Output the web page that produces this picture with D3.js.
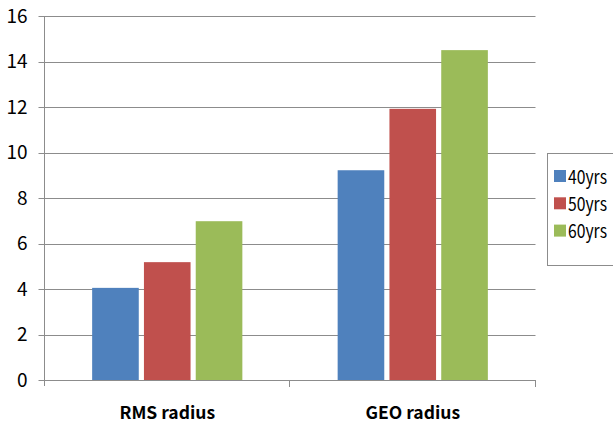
<!DOCTYPE html>
<html>
<head>
<meta charset="utf-8">
<script src="https://cdn.jsdelivr.net/npm/d3@7"></script>
<style>
  html, body { margin: 0; padding: 0; background: #fff; }
  svg { display: block; }
  text { font-family: "Noto Sans CJK KR", "Noto Sans", sans-serif; }
</style>
</head>
<body>
<svg id="chart" width="613" height="425"></svg>
<script>
// Radius by age group
const categories = ["RMS radius", "GEO radius"];
const seriesNames = ["40yrs", "50yrs", "60yrs"];
const values40 = [4.05, 9.22];
const values50 = [5.18, 11.92];
const values60 = [6.98, 14.5];
const yTicks = [0, 2, 4, 6, 8, 10, 12, 14, 16];
const colors = ["#4f81bd", "#c0504d", "#9bbb59"];

const series = [values40, values50, values60];
const fontFamily = "'Noto Sans CJK KR', 'Noto Sans', sans-serif";

const svg = d3.select("#chart");
const plotLeft = 44.5, plotRight = 535.5, plotTop = 16, plotBottom = 380;

const x = d3.scaleBand().domain(categories).range([plotLeft, plotRight]).paddingInner(0).paddingOuter(0);
const x1 = d3.scaleBand().domain(seriesNames).range([0, x.bandwidth()]).paddingInner(0.1).paddingOuter(0.92);
const y = d3.scaleLinear().domain([0, 16]).range([plotBottom, plotTop]);

// horizontal gridlines
svg.append("g")
  .selectAll("line")
  .data(yTicks)
  .join("line")
  .attr("x1", plotLeft - 6).attr("x2", plotRight)
  .attr("y1", d => Math.round(y(d)) + 0.5).attr("y2", d => Math.round(y(d)) + 0.5)
  .attr("stroke", "#8c8c8c").attr("stroke-width", 1);

// y axis labels
const yAxis = d3.axisLeft(y).tickValues(yTicks).tickSize(0).tickPadding(0);
const gy = svg.append("g").attr("transform", `translate(${plotLeft - 17},0)`).call(yAxis);
gy.select(".domain").remove();
gy.selectAll("text").attr("font-size", 19).attr("fill", "#000").attr("dy", "0.34em")
  .style("font-family", fontFamily);

// y axis line
svg.append("line")
  .attr("x1", plotLeft).attr("x2", plotLeft).attr("y1", plotTop).attr("y2", plotBottom + 6)
  .attr("stroke", "#8c8c8c");

// bars
const groups = svg.append("g")
  .selectAll("g")
  .data(categories)
  .join("g")
  .attr("transform", d => `translate(${x(d)},0)`);

groups.selectAll("rect")
  .data((d, i) => seriesNames.map((s, j) => ({ s, j, v: series[j][i] })))
  .join("rect")
  .attr("x", d => x1(d.s))
  .attr("width", x1.bandwidth())
  .attr("y", d => y(d.v))
  .attr("height", d => plotBottom - y(d.v))
  .attr("fill", d => colors[d.j]);

// x axis
const xAxis = d3.axisBottom(x).tickSize(0).tickPadding(0);
const gx = svg.append("g").attr("transform", `translate(0,${plotBottom + 0.5})`).call(xAxis);
gx.select(".domain").remove();
gx.selectAll("text").attr("font-size", 17.5).attr("font-weight", "bold").attr("fill", "#000")
  .attr("dy", 0).attr("y", 38)
  .style("font-family", fontFamily);

svg.append("line")
  .attr("x1", plotLeft).attr("x2", plotRight).attr("y1", plotBottom + 0.5).attr("y2", plotBottom + 0.5)
  .attr("stroke", "#8c8c8c");
// category separators
const seps = [x(categories[1]), plotRight];
svg.append("g").selectAll("line").data(seps).join("line")
  .attr("x1", d => Math.round(d) - 0.5).attr("x2", d => Math.round(d) - 0.5)
  .attr("y1", plotBottom).attr("y2", plotBottom + 7)
  .attr("stroke", "#8c8c8c");

// legend
const legend = svg.append("g").attr("transform", "translate(547,153)");
legend.append("rect")
  .attr("x", 0.5).attr("y", 0.5).attr("width", 80).attr("height", 112)
  .attr("fill", "#fff").attr("stroke", "#8c8c8c");
const item = legend.selectAll("g.item")
  .data(seriesNames)
  .join("g")
  .attr("class", "item")
  .attr("transform", (d, i) => `translate(7,${23 + i * 27.3})`);
item.append("rect")
  .attr("x", 0).attr("y", -6).attr("width", 12).attr("height", 12)
  .attr("fill", (d, i) => colors[i]);
item.append("text")
  .attr("x", 14).attr("y", 7.5)
  .attr("font-size", 19).attr("fill", "#000")
  .attr("textLength", 39).attr("lengthAdjust", "spacingAndGlyphs")
  .text(d => d);
</script>
</body>
</html>
